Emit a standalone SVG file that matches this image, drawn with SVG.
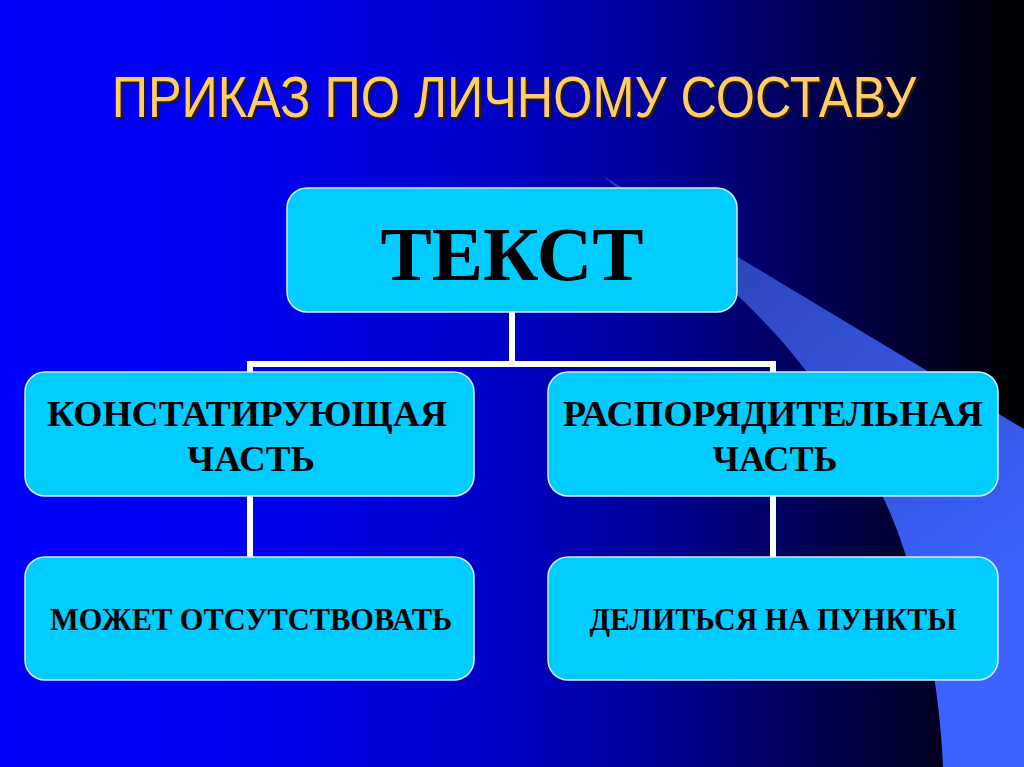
<svg xmlns="http://www.w3.org/2000/svg" width="1024" height="767" viewBox="0 0 1024 767">
  <defs>
    <linearGradient id="bg" x1="0" y1="0" x2="1" y2="0">
      <stop offset="0" stop-color="#0000ff"/>
      <stop offset="0.25" stop-color="#0000f0"/>
      <stop offset="0.5" stop-color="#0000c4"/>
      <stop offset="0.65" stop-color="#000094"/>
      <stop offset="0.8" stop-color="#000052"/>
      <stop offset="0.92" stop-color="#000022"/>
      <stop offset="1" stop-color="#000000"/>
    </linearGradient>
    <linearGradient id="sweep" gradientUnits="userSpaceOnUse" x1="650" y1="200" x2="960" y2="620">
      <stop offset="0" stop-color="#2a40b0"/>
      <stop offset="0.5" stop-color="#3352d8"/>
      <stop offset="1" stop-color="#3c62ff"/>
    </linearGradient>
  </defs>
  <style>
    .box { fill: #00ccff; stroke: #d0f0ff; stroke-width: 1.5; }
    .lbl { font-family: "Liberation Serif", "Times New Roman", serif; font-weight: bold; fill: #000; text-anchor: middle; }
    .conn { stroke: #ffffff; stroke-width: 6; fill: none; stroke-linecap: butt; }
    .title { font-family: "Liberation Sans", Arial, sans-serif; font-size: 58px; text-anchor: middle; }
  </style>

  <rect x="0" y="0" width="1024" height="767" fill="url(#bg)"/>
  <path d="M603,176 L1024,429 L1024,767 L943,767 C940,690 925,615 905,553 C885,490 850,430 807,372 C760,310 690,250 603,176 Z" fill="url(#sweep)"/>

  <g id="title">
    <text class="title" transform="translate(516,119) scale(0.869,1)" x="0" y="0" fill="#2a1e00">ПРИКАЗ ПО ЛИЧНОМУ СОСТАВУ</text>
    <text class="title" transform="translate(514,117) scale(0.869,1)" x="0" y="0" fill="#ffcc66">ПРИКАЗ ПО ЛИЧНОМУ СОСТАВУ</text>
  </g>

  <g id="connectors">
    <path class="conn" d="M512,312 V364"/>
    <path class="conn" d="M250,372 V364 H773 V372"/>
    <path class="conn" d="M250,496 V557"/>
    <path class="conn" d="M773,496 V557"/>
  </g>

  <g id="node-text">
    <rect class="box" x="287" y="188" width="450" height="124" rx="20"/>
    <text class="lbl" x="512" y="280" font-size="76" textLength="263" lengthAdjust="spacingAndGlyphs">ТЕКСТ</text>
  </g>

  <g id="node-konst">
    <rect class="box" x="25" y="372" width="449" height="124" rx="20"/>
    <text class="lbl" x="247" y="426" font-size="35" textLength="400" lengthAdjust="spacingAndGlyphs">КОНСТАТИРУЮЩАЯ</text>
    <text class="lbl" x="251" y="471" font-size="35" textLength="128" lengthAdjust="spacingAndGlyphs">ЧАСТЬ</text>
  </g>

  <g id="node-rasp">
    <rect class="box" x="548" y="372" width="450" height="124" rx="20"/>
    <text class="lbl" x="773" y="426" font-size="35" textLength="420" lengthAdjust="spacingAndGlyphs">РАСПОРЯДИТЕЛЬНАЯ</text>
    <text class="lbl" x="775" y="471" font-size="35" textLength="125" lengthAdjust="spacingAndGlyphs">ЧАСТЬ</text>
  </g>

  <g id="node-mozhet">
    <rect class="box" x="25" y="557" width="449" height="123" rx="20"/>
    <text class="lbl" x="251" y="630" font-size="32" textLength="402" lengthAdjust="spacingAndGlyphs">МОЖЕТ ОТСУТСТВОВАТЬ</text>
  </g>

  <g id="node-delit">
    <rect class="box" x="548" y="557" width="450" height="123" rx="20"/>
    <text class="lbl" x="773" y="630" font-size="32" textLength="367" lengthAdjust="spacingAndGlyphs">ДЕЛИТЬСЯ НА ПУНКТЫ</text>
  </g>
</svg>
